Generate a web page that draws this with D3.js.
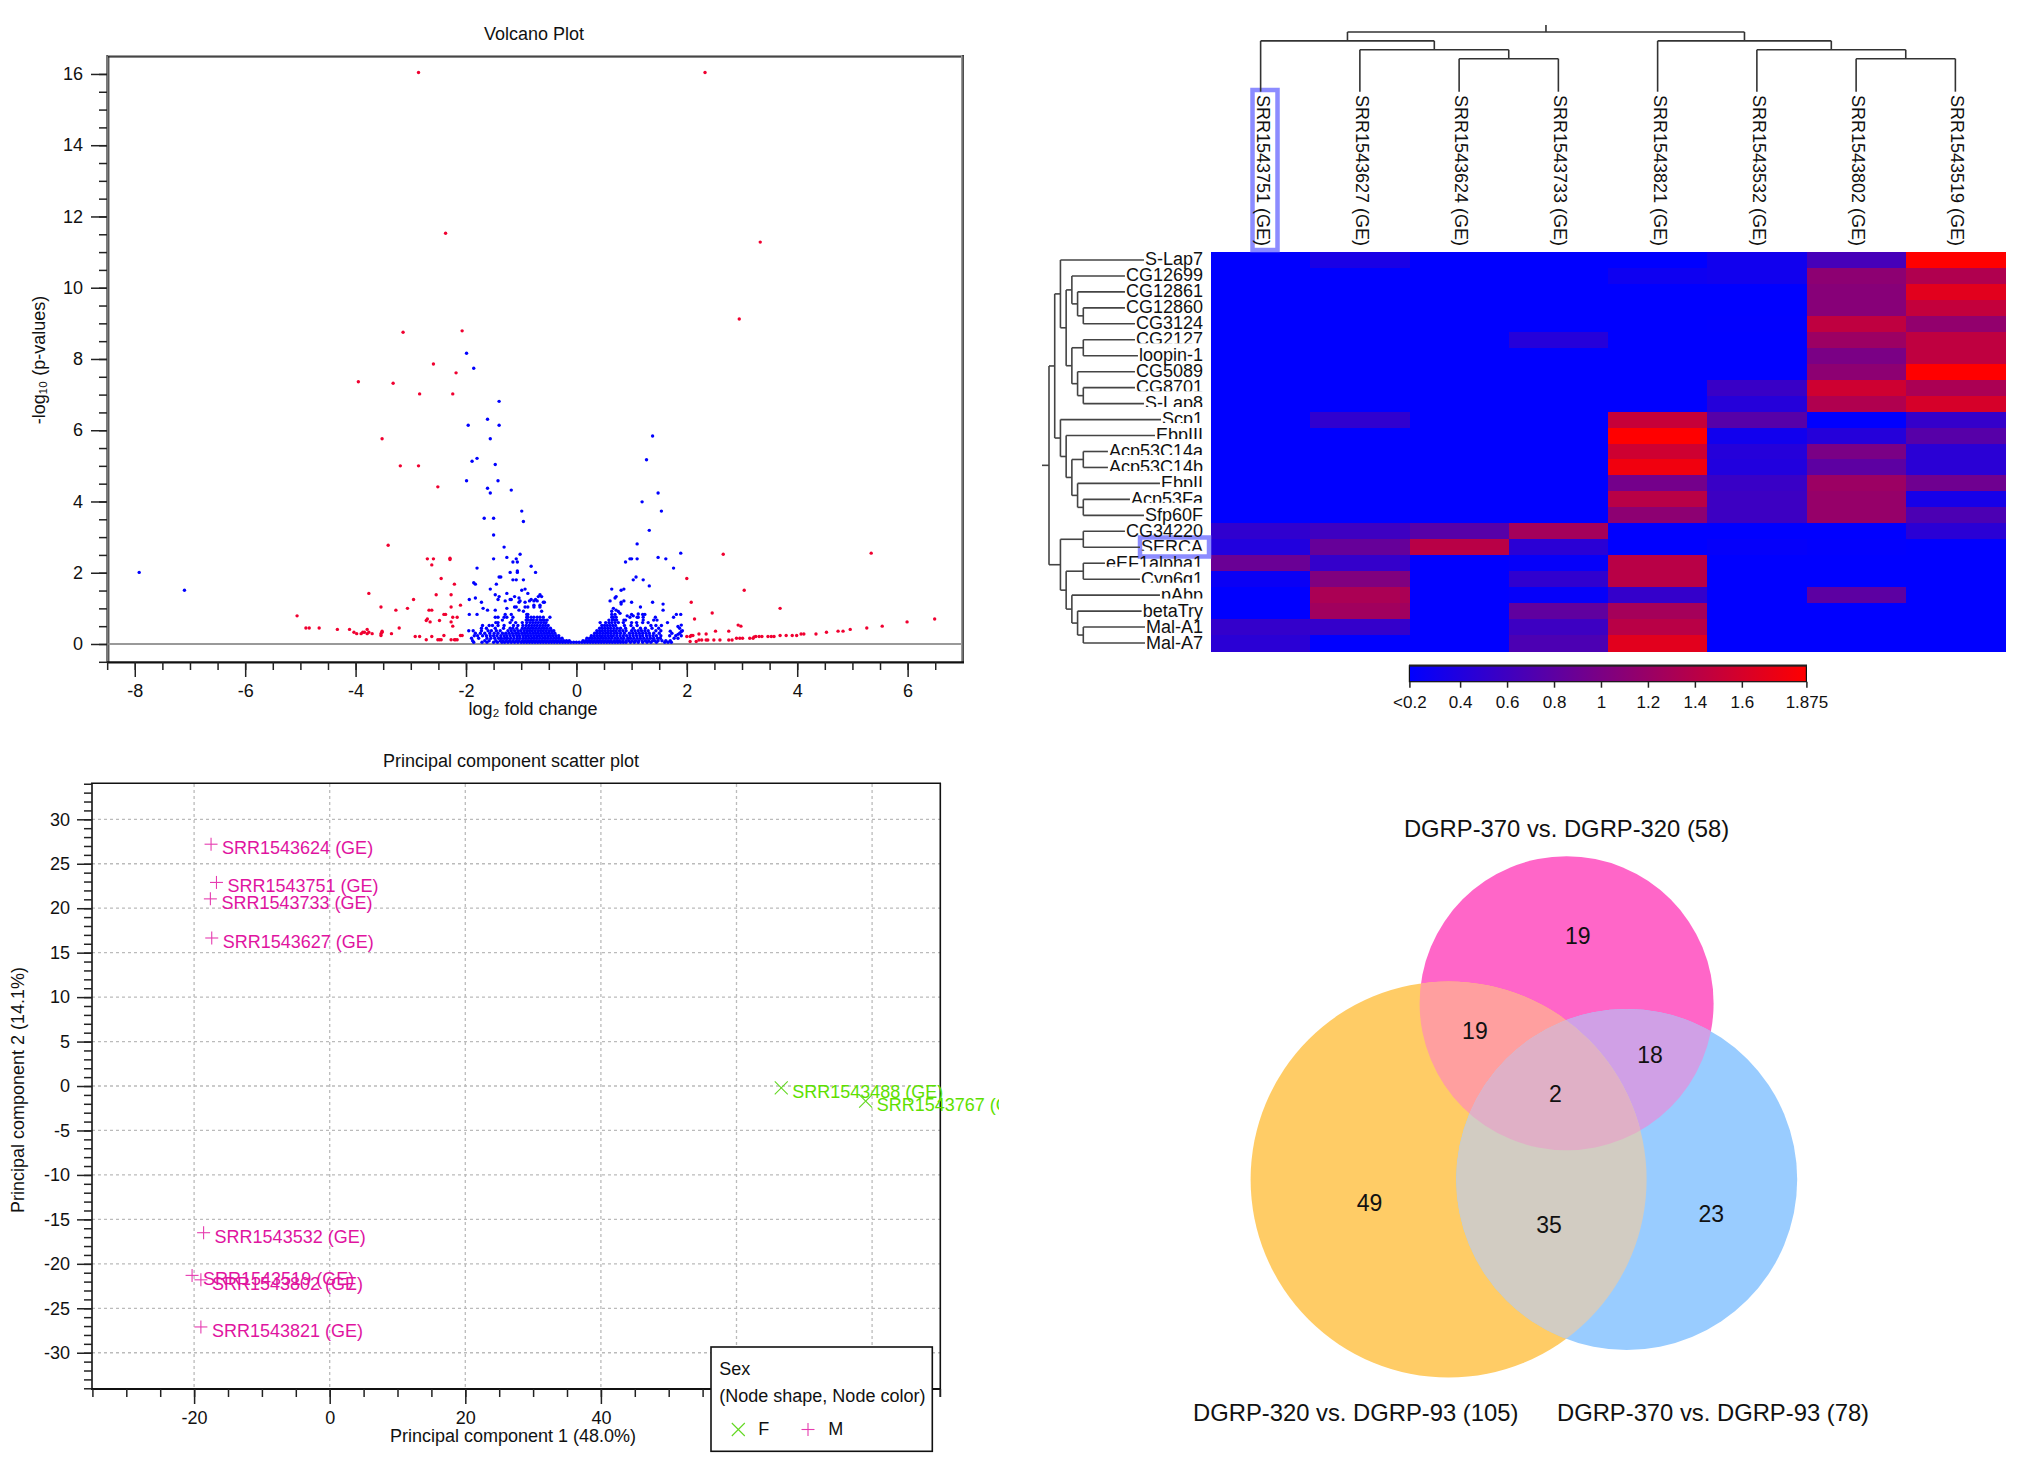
<!DOCTYPE html>
<html lang="en">
<head>
    <meta charset="utf-8">
    <title>Volcano, heat map, PCA and Venn</title>
    <style>
        body { margin: 0; background: white; }
        text { font-family: "Liberation Sans", Arial, sans-serif; fill: #111; }
    </style>
</head>
<body>
    <svg id="chart" width="2022" height="1462"></svg>
</body>
<script src="https://d3js.org/d3.v7.min.js"></script>
<script>
    // ---- volcano data: [log2 fold change, -log10 p]
    const volcanoRed = [
        [-2.86,16.04],[2.33,16.04],[-2.37,11.53],[3.33,11.28],[2.95,9.12],[-3.14,8.75],[-2.07,8.79],[-2.59,7.86],[-2.18,7.61],
        [-3.95,7.36],[-3.32,7.32],[-2.84,7.02],[-2.24,7.02],[-3.52,5.76],[-3.19,5.0],[-2.86,5.0],[-2.51,4.41],[-3.41,2.77],
        [-2.70,2.39],[-2.59,2.39],[-2.29,2.41],[-2.29,2.37],[-2.62,2.22],[-2.45,1.84],[-2.21,1.68],[-3.76,1.42],[-2.54,1.38],
        [-2.27,1.38],[-2.95,1.25],[-3.54,1.04],[-2.27,1.04],[-2.10,1.09],[-3.06,1.0],[-3.27,0.95],[-2.67,0.95],[-2.62,0.95],
        [-2.40,0.83],[-2.37,0.83],[-5.06,0.79],[-2.24,0.75],[-2.16,0.75],[-2.70,0.70],[-2.72,0.66],[-2.48,0.66],[-2.65,0.62],
        [-2.27,0.62],[-2.24,0.50],[-4.90,0.45],[-4.84,0.45],[-4.66,0.45],[-3.21,0.45],[-4.33,0.41],[-4.11,0.41],[-3.79,0.41],
        [-4.03,0.33],[-3.98,0.29],[-3.90,0.29],[-3.87,0.33],[-3.84,0.33],[-3.79,0.29],[-3.76,0.33],[-3.70,0.29],[-3.52,0.36],
        [-3.52,0.33],[-3.54,0.29],[-3.54,0.24],[-3.35,0.29],[-2.92,0.21],[-2.84,0.21],[-2.72,0.12],[-2.62,0.21],[-2.51,0.12],
        [-2.45,0.12],[-2.48,0.12],[-2.40,0.24],[-2.27,0.12],[-2.21,0.12],[-2.16,0.12],[-2.19,0.12],[-2.10,0.24],[-2.07,0.24],
        [5.34,2.55],[2.66,2.52],[2.0,1.84],[3.04,1.51],[2.08,1.17],[2.46,0.87],[3.69,1.0],[2.14,0.70],[6.49,0.70],[5.99,0.62],
        [5.54,0.50],[5.26,0.45],[4.96,0.41],[4.74,0.36],[4.83,0.36],[4.53,0.33],[4.34,0.28],[4.07,0.28],[4.12,0.28],[3.91,0.24],
        [3.99,0.24],[3.69,0.24],[3.80,0.24],[3.47,0.21],[3.53,0.21],[3.58,0.21],[3.22,0.20],[3.25,0.21],[3.31,0.21],[3.36,0.21],
        [3.14,0.16],[3.20,0.16],[2.90,0.16],[2.96,0.16],[3.01,0.16],[2.93,0.53],[2.98,0.50],[2.76,0.36],[2.52,0.36],[2.35,0.28],
        [2.22,0.28],[2.0,0.21],[2.06,0.21],[2.08,0.24],[2.11,0.24],[2.06,0.07],[2.17,0.07],[2.22,0.11],[2.27,0.11],[2.35,0.11],
        [2.38,0.11],[2.49,0.11],[2.60,0.11],[2.76,0.11],[2.82,0.11]
    ]
    const volcanoBlue = [
        [-7.92,2.01],[-7.10,1.51],[-1.99,8.16],[-1.86,7.74],[-1.40,6.81],[-1.61,6.31],[-1.96,6.14],[-1.40,6.14],[-1.56,5.76],
        [-1.80,5.21],[-1.89,5.13],[-1.47,5.04],[-1.99,4.58],[-1.42,4.58],[-1.61,4.37],[-1.56,4.24],[-1.67,3.53],[-1.50,3.53],
        [-1.50,3.06],[-1.50,2.39],[-1.80,2.13],[-1.40,1.88],[-1.86,1.72],[-1.83,1.68],[-1.45,1.68],[-1.56,1.54],[-1.47,1.38],
        [-1.40,1.33],[-1.83,1.29],[-1.94,1.25],[-1.42,1.25],[-1.72,1.17],[-1.69,1.0],[-1.61,0.95],[-1.47,0.95],[-1.18,4.32],
        [-0.99,3.73],[-0.96,3.44],[-1.31,2.72],[-1.02,2.52],[-1.26,2.43],[-1.09,2.39],[-1.15,2.30],[-1.07,2.30],[-0.82,2.18],
        [-1.20,2.01],[-1.07,2.05],[-1.07,2.01],[-0.74,2.01],[-1.37,1.88],[-1.15,1.80],[-1.09,1.80],[-0.96,1.80],[-0.99,1.51],
        [-0.93,1.54],[-1.26,1.42],[-0.88,1.42],[-1.12,1.33],[-0.66,1.38],[-0.69,1.33],[-0.63,1.33],[-1.20,1.25],[-1.18,1.25],
        [-1.29,1.21],[-1.04,1.29],[-1.02,1.21],[-0.74,1.25],[-0.77,1.21],[-0.71,1.21],[-0.85,1.21],[-0.82,1.25],[-0.93,1.17],
        [-1.04,1.17],[-0.60,1.17],[-0.58,1.17],[-1.12,1.04],[-1.09,1.04],[-0.93,1.04],[-0.88,1.04],[-0.77,1.09],[-0.77,1.04],
        [-0.66,1.09],[-0.66,1.04],[-1.26,1.0],[-1.04,0.95],[-0.96,0.92],[-0.63,0.92],
        [1.38,5.84],[1.27,5.17],[1.48,4.24],[1.19,3.99],[1.54,3.73],[1.32,3.19],[1.10,2.81],[1.89,2.55],[1.48,2.43],[1.62,2.39],
        [0.97,2.39],[1.0,2.39],[1.10,2.39],[0.89,2.30],[1.76,2.13],[1.08,1.88],[1.03,1.80],[1.21,1.80],[1.32,1.63],[0.64,1.54],
        [0.86,1.54],[0.81,1.51],[0.72,1.33],[0.70,1.29],[0.61,1.21],[0.86,1.21],[0.81,1.17],[0.81,1.12],[1.0,1.17],[1.38,1.17],
        [1.57,1.12],[1.57,0.95],[1.16,1.04],[0.67,1.0],[0.64,0.92],[0.72,0.95],[1.03,0.79],[0.92,0.79],[0.76,0.91],[0.79,0.86],
        [1.12,0.84],[1.2,0.83],[1.9,0.53],[1.84,0.49],[1.7,0.36],[1.9,0.35],[1.84,0.27]
    ]
    // dense part of the blue cloud, one line per -log10 p level
    const volcanoBlueLevels = [0.05, 0.09, 0.16, 0.23, 0.30, 0.37, 0.44, 0.52, 0.60, 0.67, 0.75, 0.83]
    const volcanoBlueFolds = [
        [-1.86,-1.71,-1.62,-1.5,-1.43,-1.35,-1.3,-1.24,-1.18,-1.12,-1.06,-1.0,-.95,-.9,-.85,-.8,-.75,-.7,-.65,-.6,-.55,-.5,-.45,-.4,-.35,-.3,-.25,-.2,-.15,-.1,-.05,0,.05,.1,.15,.2,.25,.3,.35,.4,.45,.5,.55,.6,.65,.7,.75,.8,.85,.9,.98,1.05,1.12,1.2,1.28,1.35,1.45,1.6,1.66,1.72],
        [-1.88,-1.66,-1.58,-1.46,-1.38,-1.33,-1.27,-1.21,-1.15,-1.09,-1.04,-.98,-.93,-.88,-.83,-.78,-.73,-.68,-.63,-.58,-.53,-.48,-.43,-.38,-.33,-.28,-.23,-.18,-.13,.12,.17,.22,.27,.32,.37,.42,.47,.52,.57,.62,.68,.73,.78,.84,.9,.95,1.01,1.07,1.13,1.19,1.25,1.31,1.38,1.42,1.48,1.55,1.62,1.7],
        [-1.9,-1.77,-1.62,-1.55,-1.48,-1.41,-1.36,-1.3,-1.25,-1.19,-1.13,-1.07,-1.02,-.96,-.91,-.86,-.81,-.76,-.71,-.66,-.61,-.56,-.51,-.46,-.41,-.36,-.31,-.26,.19,.24,.29,.34,.39,.44,.49,.54,.59,.64,.7,.75,.81,.86,.93,.98,1.04,1.1,1.16,1.22,1.28,1.34,1.4,1.47,1.52,1.77,1.84],
        [-1.85,-1.79,-1.7,-1.63,-1.56,-1.5,-1.44,-1.37,-1.31,-1.26,-1.2,-1.14,-1.08,-1.03,-.97,-.92,-.87,-.82,-.77,-.72,-.67,-.62,-.57,-.52,-.47,-.42,-.37,-.32,.27,.32,.37,.42,.47,.52,.57,.62,.67,.73,.79,.85,.91,.97,1.03,1.09,1.15,1.2,1.27,1.33,1.39,1.45,1.53,1.69,1.8,1.9],
        [-1.83,-1.74,-1.66,-1.57,-1.49,-1.42,-1.34,-1.28,-1.22,-1.16,-1.1,-1.05,-.99,-.94,-.89,-.84,-.79,-.74,-.69,-.64,-.59,-.54,-.49,-.44,-.39,.33,.38,.43,.48,.53,.58,.63,.69,.74,.8,.87,.96,1.02,1.08,1.14,1.2,1.26,1.32,1.4,1.5,1.73,1.87],
        [-1.95,-1.87,-1.72,-1.6,-1.54,-1.45,-1.38,-1.24,-1.18,-1.12,-1.06,-1.01,-.95,-.9,-.85,-.8,-.75,-.7,-.65,-.6,-.55,-.5,-.45,-.41,.37,.42,.47,.52,.57,.62,.67,.72,.78,.84,.9,1.0,1.06,1.12,1.18,1.24,1.3,1.44,1.53,1.92],
        [-1.72,-1.63,-1.47,-1.32,-1.2,-1.15,-1.08,-.98,-.93,-.88,-.83,-.78,-.73,-.68,-.63,-.58,-.53,-.47,.42,.47,.52,.57,.62,.68,.74,.8,.89,1.03,1.16,1.25,1.37,1.49,1.87],
        [-1.7,-1.58,-1.52,-1.42,-1.31,-1.14,-1.06,-.97,-.91,-.86,-.81,-.76,-.71,-.66,-.61,-.56,-.51,.46,.51,.56,.61,.66,.71,.87,.99,1.1,1.35,1.44,1.54],
        [-1.46,-1.42,-1.2,-1.1,-.98,-.9,-.84,-.79,-.74,-.69,-.64,-.59,-.55,.43,.53,.59,.64,.7,.76,.85,1.0,1.09,1.2,1.3,1.65],
        [-1.34,-1.17,-.91,-.87,-.82,-.78,-.72,-.66,-.62,-.58,-.53,.59,.65,.69,.73,.86,.89,1.21,1.4,1.46],
        [-1.47,-1.42,-1.31,-1.26,-1.15,-.9,-.88,-.82,-.77,-.71,-.66,-.6,-.48,.64,.67,.72,.97,1.1,1.12,1.21,1.43,1.76],
        [-1.94,-1.8,-1.29,-1.18,-.9,-.88,.64,.7,1.0,1.24,1.89,1.81]
    ]

    // ---- heat map data
    const sampleNames = ["SRR1543751 (GE)", "SRR1543627 (GE)", "SRR1543624 (GE)", "SRR1543733 (GE)",
        "SRR1543821 (GE)", "SRR1543532 (GE)", "SRR1543802 (GE)", "SRR1543519 (GE)"]
    const geneNames = ["S-Lap7", "CG12699", "CG12861", "CG12860", "CG3124", "CG2127", "loopin-1", "CG5089", "CG8701", "S-Lap8",
        "Scp1", "EbpIII", "Acp53C14a", "Acp53C14b", "EbpII", "Acp53Fa", "Sfp60F", "CG34220", "SERCA", "eEF1alpha1",
        "Cyp6g1", "pAbp", "betaTry", "Mal-A1", "Mal-A7"]
    // these labels are cut off by the row under them in the picture
    const cutGenes = ["CG2127", "CG8701", "S-Lap8", "Scp1", "EbpIII", "Acp53C14a", "Acp53C14b", "EbpII", "Acp53Fa",
        "SERCA", "eEF1alpha1", "Cyp6g1", "pAbp"]
    const heatValues = [
        [.18,.35,.18,.18,.18,.30,.65,1.875],
        [.18,.18,.18,.18,.28,.30,1.12,1.35],
        [.18,.18,.18,.18,.18,.18,1.08,1.68],
        [.18,.18,.18,.18,.18,.18,1.08,1.48],
        [.18,.18,.18,.18,.18,.19,1.45,1.15],
        [.18,.18,.18,.43,.18,.18,1.22,1.45],
        [.18,.18,.18,.18,.18,.18,.99,1.45],
        [.18,.18,.18,.18,.18,.18,1.12,1.875],
        [.18,.18,.18,.18,.18,.56,1.55,1.32],
        [.18,.18,.18,.18,.18,.43,1.35,1.6],
        [.18,.50,.18,.18,1.5,.76,.18,.53],
        [.18,.18,.18,.18,1.875,.30,.43,.76],
        [.18,.18,.18,.18,1.55,.43,.99,.46],
        [.18,.18,.18,.18,1.78,.40,.80,.46],
        [.18,.18,.18,.18,.95,.56,1.22,.92],
        [.18,.18,.18,.18,1.41,.59,1.18,.33],
        [.18,.18,.18,.18,1.12,.59,1.18,.69],
        [.50,.59,.76,1.28,.18,.18,.18,.46],
        [.40,.86,1.41,.46,.18,.22,.20,.18],
        [.89,.53,.18,.22,1.41,.18,.18,.18],
        [.25,1.03,.18,.50,1.41,.18,.18,.18],
        [.18,1.32,.18,.22,.53,.18,.80,.18],
        [.18,1.25,.18,.82,1.28,.18,.18,.18],
        [.53,.53,.18,.59,1.41,.18,.18,.18],
        [.46,.18,.18,.69,1.68,.18,.18,.18]
    ]
    const heatTicks = [0.184, 0.4, 0.6, 0.8, 1, 1.2, 1.4, 1.6, 1.875]
    const heatTickLabels = ["<0.2", "0.4", "0.6", "0.8", "1", "1.2", "1.4", "1.6", "1.875"]
    // trees: [merge level, child, child], a string is a leaf
    const sampleTree = [0,
        [1, "SRR1543751 (GE)", [2, "SRR1543627 (GE)", [3, "SRR1543624 (GE)", "SRR1543733 (GE)"]]],
        [1, "SRR1543821 (GE)", [2, "SRR1543532 (GE)", [3, "SRR1543802 (GE)", "SRR1543519 (GE)"]]]]
    const geneTree = [0,
        [1,
            [2, "S-Lap7", [3,
                [4, "CG12699", [5, "CG12861", [6, "CG12860", "CG3124"]]],
                [4, [6, "CG2127", "loopin-1"], [5, "CG5089", [6, "CG8701", "S-Lap8"]]]]],
            [2, "Scp1", [3, "EbpIII", [4, [6, "Acp53C14a", "Acp53C14b"], [5, "EbpII", [6, "Acp53Fa", "Sfp60F"]]]]]],
        [2, [6, "CG34220", "SERCA"], [3, [6, "eEF1alpha1", "Cyp6g1"], [4, "pAbp", [5, "betaTry", [6, "Mal-A1", "Mal-A7"]]]]]]

    // ---- PCA data
    const pcaNames = ["SRR1543624 (GE)", "SRR1543751 (GE)", "SRR1543733 (GE)", "SRR1543627 (GE)", "SRR1543532 (GE)",
        "SRR1543519 (GE)", "SRR1543802 (GE)", "SRR1543821 (GE)", "SRR1543488 (GE)", "SRR1543767 (GE)"]
    const pcaOne = [-17.5, -16.7, -17.6, -17.4, -18.6, -20.3, -19.0, -19.0, 66.6, 79.05]
    const pcaTwo = [27.2, 22.9, 21.05, 16.65, -16.5, -21.3, -21.8, -27.1, -0.2, -1.7]
    const pcaSex = ["M", "M", "M", "M", "M", "M", "M", "M", "F", "F"]

    // ---- Venn data
    const vennSets = ["DGRP-370 vs. DGRP-320 (58)", "DGRP-320 vs. DGRP-93 (105)", "DGRP-370 vs. DGRP-93 (78)"]
    const vennCounts = [19, 19, 18, 2, 49, 35, 23]

    const svg = d3.select("#chart")
    const defs = svg.append("defs")
    const FONT = 18

    function label(parent, x, y, str, anchor, size) {
        return parent.append("text").attr("x", x).attr("y", y)
            .attr("text-anchor", anchor || "middle")
            .style("font-size", (size || FONT) + "px")
            .text(str)
    }

    // major ticks carry the labels, minor ones are a second axis with no text
    function ticks(gen, scale, transform, major, minor, bigLen, smallLen, pad) {
        let small = svg.append("g").attr("transform", transform)
            .call(gen(scale).tickValues(minor).tickSize(smallLen).tickFormat(""))
        small.select(".domain").remove()
        let big = svg.append("g").attr("transform", transform)
            .call(gen(scale).tickValues(major).tickSize(bigLen).tickPadding(pad).tickFormat(d => d))
        big.select(".domain").remove()
        big.selectAll("text").style("font-size", FONT + "px").style("font-family", "Liberation Sans")
        svg.selectAll(".tick line").attr("stroke", "#222").attr("stroke-width", 1.5)
    }

    function hline(x1, x2, y, color, w) {
        svg.append("line").attr("x1", x1).attr("x2", x2).attr("y1", y).attr("y2", y)
            .attr("stroke", color).attr("stroke-width", w)
    }
    function vline(x, y1, y2, color, w) {
        svg.append("line").attr("x1", x).attr("x2", x).attr("y1", y1).attr("y2", y2)
            .attr("stroke", color).attr("stroke-width", w)
    }

    // ---------- volcano
    function drawVolcano() {
        let x = d3.scaleLinear().domain([-8.476, 6.985]).range([108.5, 962])
        let y = d3.scaleLinear().domain([-0.514, 16.49]).range([662.3, 56.5])

        hline(107, 964, 55.6, "#999", 1.2)
        hline(108, 962, 56.9, "#111", 1.4)
        vline(107, 55, 663, "#333", 1.3)
        vline(108.8, 56, 663, "#222", 1.1)
        vline(961.6, 55, 663, "#999", 1.2)
        vline(963.1, 55, 663, "#222", 1.4)
        hline(107, 964, 662.3, "#111", 2.2)
        hline(108.5, 962, y(0), "#999", 2)

        ticks(d3.axisLeft, y, "translate(107,0)", d3.range(0, 17, 2), d3.range(-0.5, 16.5, 0.5), 16, 8, 8)
        ticks(d3.axisBottom, x, "translate(0,662)", d3.range(-8, 7, 2), d3.range(-8.5, 7, 0.5), 15, 8, 7)

        let dots = volcanoBlue.slice()
        volcanoBlueLevels.forEach((level, i) => {
            volcanoBlueFolds[i].forEach(f => dots.push([f, level]))
        })
        svg.append("g").selectAll("circle").data(dots).join("circle")
            .attr("cx", d => x(d[0])).attr("cy", d => y(d[1])).attr("r", 1.7).attr("fill", "#0000ff")
        svg.append("g").selectAll("circle").data(volcanoRed).join("circle")
            .attr("cx", d => x(d[0])).attr("cy", d => y(d[1])).attr("r", 1.7).attr("fill", "#f00030")

        label(svg, 534, 40, "Volcano Plot")
        label(svg, 533, 715, "log₂ fold change")
        label(svg, 0, 0, "-log₁₀ (p-values)").attr("x", null).attr("y", null)
            .attr("transform", "translate(45,360) rotate(-90)")
    }

    // ---------- trees, pos is along the leaves, depth is along the levels
    function drawTree(nested, leafPos, levelPos, leafEnd, flip, color) {
        let root = d3.hierarchy(nested, d => Array.isArray(d) ? d.slice(1) : null)
        root.eachAfter(n => {
            n.pos = n.children ? d3.mean(n.children, c => c.pos) : leafPos(n.data)
            n.depthPos = n.children ? levelPos(n.data[0]) : leafEnd(n.data)
        })
        let segs = []
        root.each(n => {
            if (!n.children) return
            let ps = n.children.map(c => c.pos)
            segs.push([n.depthPos, d3.min(ps), n.depthPos, d3.max(ps)])
            n.children.forEach(c => segs.push([n.depthPos, c.pos, c.depthPos, c.pos]))
        })
        segs.push([levelPos(0) - 7, root.pos, levelPos(0), root.pos])
        svg.append("g").selectAll("line").data(segs).join("line")
            .attr("x1", d => flip ? d[1] : d[0]).attr("y1", d => flip ? d[0] : d[1])
            .attr("x2", d => flip ? d[3] : d[2]).attr("y2", d => flip ? d[2] : d[3])
            .attr("stroke", color).attr("stroke-width", 1.6)
    }

    // ---------- heat map
    function drawHeat() {
        let col = d3.scaleBand().domain(sampleNames).range([1211, 2005])
        let row = d3.scaleBand().domain(geneNames).range([252, 651])
        let color = d3.scaleLinear().domain([0.184, 1.875]).range(["#0000ff", "#ff0000"]).clamp(true)

        geneNames.forEach((gene, r) => {
            svg.append("g").attr("shape-rendering", "crispEdges")
                .selectAll("rect").data(heatValues[r]).join("rect")
                .attr("x", (d, c) => col(sampleNames[c])).attr("y", row(gene))
                .attr("width", col.bandwidth() + 1).attr("height", row.bandwidth() + 1)
                .attr("fill", d => color(d))
        })

        // selection boxes sit behind the labels
        svg.append("rect").attr("x", 1252.5).attr("y", 90).attr("width", 25).attr("height", 160)
            .attr("fill", "white").attr("stroke", "#8c8cff").attr("stroke-width", 4.5)
        svg.append("rect").attr("x", 1140).attr("y", 537.5).attr("width", 69).attr("height", 19)
            .attr("fill", "white").attr("stroke", "#8c8cff").attr("stroke-width", 4.5)

        sampleNames.forEach(s => {
            let cx = col(s) + col.bandwidth() / 2
            label(svg, 0, 0, s, "start").attr("x", null).attr("y", null)
                .attr("transform", "translate(" + (cx - 4) + ",95) rotate(90)")
        })

        let lengths = {}
        geneNames.forEach((gene, r) => {
            let clipId = "gene" + r
            let top = row(gene) - 3
            let h = cutGenes.includes(gene) ? 3 + row.bandwidth() - 4.5 : row.bandwidth() + 6
            defs.append("clipPath").attr("id", clipId).append("rect")
                .attr("x", 1090).attr("y", top).attr("width", 118).attr("height", h)
            let t = label(svg, 1203, row(gene) + row.bandwidth() / 2 + 5.5, gene, "end")
                .attr("clip-path", "url(#" + clipId + ")")
            lengths[gene] = t.node().getComputedTextLength()
        })

        let geneLevel = d3.scaleLinear().domain([0, 6]).range([1049, 1083.3])
        drawTree(geneTree, g => row(g) + row.bandwidth() / 2, geneLevel, g => 1202 - lengths[g], false, "#444")

        let sampleLevel = d3.scaleLinear().domain([0, 3]).range([32, 58.7])
        drawTree(sampleTree, s => col(s) + col.bandwidth() / 2, sampleLevel, () => 91.7, true, "#333")

        // colour bar
        let bar = d3.scaleLinear().domain([0.184, 1.875]).range([1409.4, 1806.4])
        let grad = defs.append("linearGradient").attr("id", "heatGrad")
        grad.append("stop").attr("offset", "0%").attr("stop-color", color(0.184))
        grad.append("stop").attr("offset", "100%").attr("stop-color", color(1.875))
        svg.append("rect").attr("x", 1409.4).attr("y", 665.7).attr("width", 397).attr("height", 16)
            .attr("fill", "url(#heatGrad)").attr("stroke", "#111").attr("stroke-width", 1.2)
        hline(1409, 1807, 665.4, "#222", 2)
        let axis = svg.append("g").attr("transform", "translate(0,681.7)")
            .call(d3.axisBottom(bar).tickValues(heatTicks).tickSize(6).tickPadding(8)
                .tickFormat((d, i) => heatTickLabels[i]))
        axis.select(".domain").remove()
        axis.selectAll("text").style("font-size", "17px").style("font-family", "Liberation Sans")
        axis.selectAll("line").attr("stroke", "#222").attr("stroke-width", 1.3)
    }

    // ---------- PCA
    function drawPca() {
        let x = d3.scaleLinear().domain([-35.06, 90.06]).range([92, 940.3])
        let y = d3.scaleLinear().domain([-34.08, 34.05]).range([1389, 783.3])
        let color = d3.scaleOrdinal().domain(["F", "M"]).range(["#5ee000", "#e0149f"])
        let markColor = d3.scaleOrdinal().domain(["F", "M"]).range(["#62d820", "#e63cb0"])
        let major = d3.range(-30, 31, 5)

        svg.append("g").selectAll("line").data(major).join("line")
            .attr("x1", 92).attr("x2", 940).attr("y1", d => y(d)).attr("y2", d => y(d))
            .attr("stroke", "#bbb").attr("stroke-width", 1.3).attr("stroke-dasharray", "3,3")
        svg.append("g").selectAll("line").data(d3.range(-20, 81, 20)).join("line")
            .attr("x1", d => x(d)).attr("x2", d => x(d)).attr("y1", 784).attr("y2", 1389)
            .attr("stroke", "#bbb").attr("stroke-width", 1.3).attr("stroke-dasharray", "3,3")

        hline(91, 941, 783.3, "#111", 1.6)
        hline(91, 941, 1389, "#111", 1.8)
        vline(92, 783, 1390, "#111", 1.6)
        vline(940.3, 783, 1397, "#111", 1.6)

        ticks(d3.axisLeft, y, "translate(92,0)", major, d3.range(-34, 35), 15, 8, 7)
        ticks(d3.axisBottom, x, "translate(0,1389)", d3.range(-20, 81, 20), d3.range(-35, 91, 5), 15, 8, 7)

        defs.append("clipPath").attr("id", "pcaClip").append("rect")
            .attr("x", 0).attr("y", 770).attr("width", 999).attr("height", 640)

        let plot = svg.append("g").attr("clip-path", "url(#pcaClip)")
        pcaNames.forEach((name, i) => {
            let px = x(pcaOne[i]), py = y(pcaTwo[i])
            marker(plot, px, py, pcaSex[i], markColor(pcaSex[i]))
            label(plot, px + 11, py + 10, name, "start").style("fill", color(pcaSex[i]))
        })

        label(svg, 511, 767, "Principal component scatter plot")
        label(svg, 513, 1442, "Principal component 1 (48.0%)")
        label(svg, 0, 0, "Principal component 2 (14.1%)").attr("x", null).attr("y", null)
            .attr("transform", "translate(24,1090) rotate(-90)")

        // legend sits on top of the axis
        svg.append("rect").attr("x", 711).attr("y", 1347).attr("width", 221.3).attr("height", 104.3)
            .attr("fill", "white").attr("stroke", "#111").attr("stroke-width", 1.6)
        label(svg, 719.3, 1375, "Sex", "start")
        label(svg, 719.3, 1402, "(Node shape, Node color)", "start")
        marker(svg, 738.3, 1429.5, "F", markColor("F"))
        label(svg, 758.3, 1435, "F", "start")
        marker(svg, 808, 1429.5, "M", markColor("M"))
        label(svg, 828.3, 1435, "M", "start")
    }

    function marker(parent, px, py, sex, color) {
        let s = 6.5
        let d = sex == "F"
            ? [[px - s, py - s, px + s, py + s], [px - s, py + s, px + s, py - s]]
            : [[px - s, py, px + s, py], [px, py - s, px, py + s]]
        d.forEach(l => parent.append("line")
            .attr("x1", l[0]).attr("y1", l[1]).attr("x2", l[2]).attr("y2", l[3])
            .attr("stroke", color).attr("stroke-width", 1.1))
    }

    // ---------- Venn
    function drawVenn() {
        let circles = [
            { cx: 1566.6, cy: 1003.3, r: 147, fill: "#ff66c8" },
            { cx: 1448.6, cy: 1179.5, r: 198, fill: "#ffcc66" },
            { cx: 1626.7, cy: 1179.5, r: 170.5, fill: "#99ccff" }
        ]
        circles.forEach((c, i) => {
            defs.append("clipPath").attr("id", "venn" + i).append("circle")
                .attr("cx", c.cx).attr("cy", c.cy).attr("r", c.r)
        })
        function disc(parent, c, fill, clip) {
            parent.append("circle").attr("cx", c.cx).attr("cy", c.cy).attr("r", c.r).attr("fill", fill)
                .attr("clip-path", clip == null ? null : "url(#venn" + clip + ")")
        }
        let g = svg.append("g")
        circles.forEach(c => disc(g, c, c.fill))
        disc(g, circles[1], "#ff9f9f", 0)
        disc(g, circles[2], "#d0a0e6", 0)
        disc(g, circles[2], "#d2ccc2", 1)
        let inner = g.append("g").attr("clip-path", "url(#venn0)")
        disc(inner, circles[2], "#e0b0c6", 1)

        let namePos = [[1566.6, 837], [1355.7, 1421], [1713, 1421]]
        vennSets.forEach((name, i) => label(svg, namePos[i][0], namePos[i][1], name, "middle", 23.8))

        let countPos = [[1577.7, 936], [1474.9, 1031.3], [1650, 1055.4], [1555.5, 1094.2],
            [1369.5, 1202.7], [1549, 1225], [1711.2, 1213.7]]
        vennCounts.forEach((n, i) => label(svg, countPos[i][0], countPos[i][1] + 8, n, "middle", 23))
    }

    drawVolcano()
    drawHeat()
    drawPca()
    drawVenn()
</script>
</html>
